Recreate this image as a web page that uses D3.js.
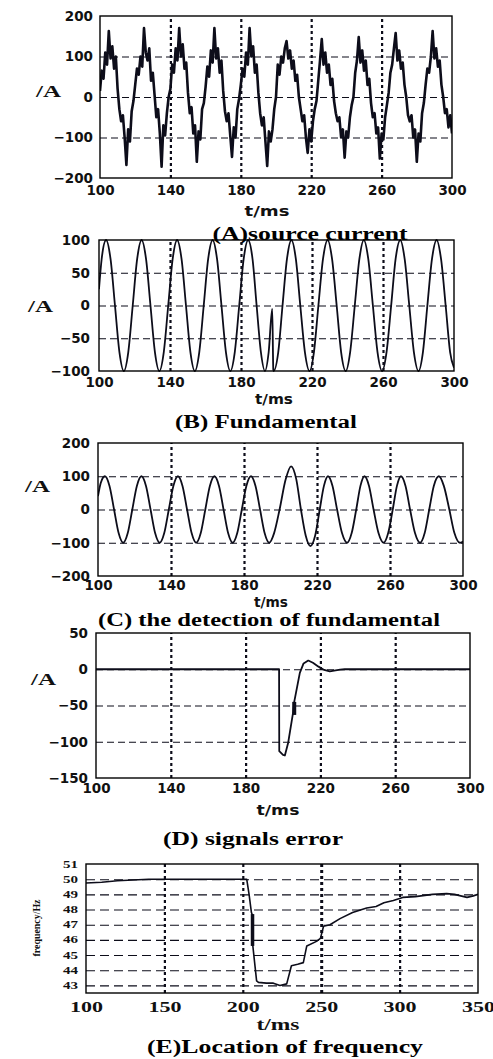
<!DOCTYPE html>
<html>
<head>
<meta charset="utf-8">
<script src="https://cdn.jsdelivr.net/npm/d3@7/dist/d3.min.js"></script>
<style>
  html, body { margin: 0; padding: 0; background: #fff; }
  svg { display: block; }
</style>
</head>
<body>
<svg id="chart" width="493" height="1059"></svg>
<script>
// ---------------- DATA ----------------
// (A) source current, sampled every 1 ms from 100 to 300 ms
const sourceCurrentTime = d3.range(100, 301, 1);
const sourceCurrentValues = [
  15, 65, 45, 110, 80, 163, 95, 125, 70, 100, 20, -30, -60, -45, -100, -168, -80, -110, -35, -10,
  30, 70, 55, 100, 75, 170, 110, 90, 120, 40, 60, 5, -50, -30, -90, -172, -70, -95, -40, 0,
  20, 80, 60, 120, 90, 170, 100, 130, 70, 85, 10, -40, -25, -90, -70, -160, -85, -105, -30, -15,
  25, 75, 50, 115, 85, 170, 95, 120, 60, 90, 15, -35, -60, -40, -95, -148, -75, -100, -30, -5,
  30, 70, 50, 110, 80, 170, 100, 125, 60, 80, 10, -40, -70, -50, -110, -170, -85, -110, -80, -30,
  0, 80, 55, 100, 85, 120, 138, 95, 115, 70, 90, 40, 55, 0, -30, -60, -45, -100, -138, -80,
  -110, -60, -30, -10, 40, 90, 143, 80, 110, 60, 80, 30, 45, -10, -40, -60, -50, -100, -80, -150,
  -85, -100, -50, -20, 0, 60, 90, 148, 85, 115, 65, 90, 30, 45, -15, -50, -40, -90, -75, -152,
  -90, -105, -50, -20, 10, 60, 80, 120, 158, 90, 115, 70, 85, 30, 0, -45, -60, -45, -100, -80,
  -160, -90, -110, -40, -15, 30, 70, 60, 100, 163, 95, 120, 75, 90, 30, 0, -40, -30, -75, -45,
  -90
];

// (B) fundamental: [time ms, current A]
const fundamentalPoints = [
  [100, 25], [101.5, 71], [104, 100], [106.5, 71], [109, 0], [111.5, -71], [114, -100], [116.5, -71],
  [119, 0], [121.5, 71], [124, 100], [126.5, 71], [129, 0], [131.5, -71], [134, -100], [136.5, -71],
  [139, 0], [141.5, 71], [144, 100], [146.5, 71], [149, 0], [151.5, -71], [154, -100], [156.5, -71],
  [159, 0], [161.5, 71], [164, 100], [166.5, 71], [169, 0], [171.5, -71], [174, -100], [176.5, -71],
  [179, 0], [181.5, 71], [184, 100], [186.5, 71], [188.8, 0], [191.2, -71], [193.5, -100], [195.6, -71],
  [197.6, -5], [198.2, -98], [198.4, -100], [201, -71], [203.4, 0], [205.9, 71], [208.4, 100], [210.9, 71],
  [213.4, 0], [216, -71], [218.6, -100], [221.1, -71], [223.6, 0], [226.2, 71], [228.8, 100], [231.3, 71],
  [233.9, 0], [236.4, -71], [239, -100], [241.5, -71], [244.1, 0], [246.7, 71], [249.2, 100], [251.7, 71],
  [254.3, 0], [256.9, -71], [259.5, -100], [262, -71], [264.6, 0], [267.1, 71], [269.7, 100], [272.2, 71],
  [274.8, 0], [277.4, -71], [280, -100], [282.5, -71], [285, 0], [287.6, 71], [290.2, 100], [292.7, 71],
  [295.3, 0], [297.8, -71], [300, -95]
];

// (C) detection of fundamental: [time ms, current A]
const detectionPoints = [
  [100, 40], [101.5, 80], [103.8, 100], [106.3, 71], [108.8, 0], [111.3, -71], [113.8, -100], [116.3, -71],
  [118.8, 0], [121.3, 71], [123.8, 100], [126.3, 71], [128.8, 0], [131.3, -71], [133.8, -100], [136.3, -71],
  [138.8, 0], [141.3, 71], [143.8, 100], [146.3, 71], [148.8, 0], [151.3, -71], [153.8, -100], [156.3, -71],
  [158.8, 0], [161.3, 71], [163.8, 100], [166.3, 71], [168.8, 0], [171.3, -71], [173.8, -100], [176.3, -71],
  [178.8, 0], [181.3, 71], [183.8, 100], [186.3, 71], [188.8, 0], [191.3, -71], [193.8, -100], [196.5, -71],
  [199.5, 0], [202.8, 90], [205.8, 130], [208.6, 92], [211.2, 0], [213.8, -78], [216.4, -110], [219, -78],
  [221.5, 0], [223.8, 71], [226, 100], [228.5, 71], [231, 0], [233.7, -71], [236.5, -100], [239, -71],
  [241.5, 0], [243.8, 71], [246, 100], [248.5, 71], [251, 0], [253.7, -71], [256.5, -100], [259, -71],
  [261.5, 0], [263.8, 71], [266, 100], [268.5, 71], [271, 0], [273.7, -71], [276.5, -100], [279, -71],
  [281.5, 0], [284, 71], [286.8, 100], [289.5, 71], [292.5, 0], [295.3, -71], [298.3, -100], [300, -96]
];

// (D) signals error: [time ms, current A]
const errorPoints = [
  [100, 0], [197.9, 0], [198, -113], [200, -118], [201, -119], [202.8, -101], [205.5, -58], [206, -45],
  [209, -5], [211, 8], [213.5, 12], [216, 9], [219, 3.6], [222, -1], [225, -3], [230.5, -0.5],
  [233, 0], [300, 0]
];
const errorBar = [[206, -45], [206, -63]];

// (E) location of frequency: [time ms, frequency Hz]
const frequencyPoints = [
  [100, 49.75], [110, 49.8], [120, 49.9], [130, 49.95], [140, 50], [150, 50], [200, 50], [202.5, 50],
  [204, 49.0], [205.5, 47.8], [206.2, 47.6], [206.4, 45.6], [208.8, 43.3], [210, 43.2], [215, 43.15],
  [219.5, 43.15], [223.7, 43.0], [228, 43.1], [231, 44.3], [235, 44.4], [238.6, 44.5], [240.8, 45.6],
  [247, 45.9], [249.5, 46.1], [251.5, 46.9], [255.6, 47.0], [262, 47.4], [270, 47.8], [279, 48.1],
  [285, 48.2], [290, 48.45], [296, 48.6], [302, 48.8], [310, 48.85], [321, 49.0], [330, 49.05],
  [335, 49.0], [343, 48.8], [347, 48.9], [350, 49.0]
];
const frequencyBar = [[206.2, 47.7], [206.2, 45.6]];

// tick labels
const timeTicks300 = [100, 140, 180, 220, 260, 300];
const timeGrid300 = [140, 180, 220, 260];
const timeTicks350 = [100, 150, 200, 250, 300, 350];
const timeGrid350 = [150, 200, 250, 300];
const ticksA = [-200, -100, 0, 100, 200];
const gridA = [-100, 0, 100];
const ticksB = [-100, -50, 0, 50, 100];
const gridB = [-50, 0, 50];
const ticksC = [-200, -100, 0, 100, 200];
const gridC = [-100, 0, 100];
const ticksD = [-150, -100, -50, 0, 50];
const gridD = [-100, -50, 0];
const ticksE = [43, 44, 45, 46, 47, 48, 49, 50, 51];
const gridE = [43, 44, 45, 46, 47, 48, 49, 50];

const titles = ["(A)source current", "(B) Fundamental", "(C) the detection of fundamental", "(D) signals error", "(E)Location of frequency"];

// ---------------- DRAWING ----------------
const svg = d3.select("#chart");
svg.append("rect").attr("width", 493).attr("height", 1059).attr("fill", "#fff");

const INK = "#0d0d1a";
const SANS = "'DejaVu Sans', sans-serif";
const SERIF = "'Liberation Serif', 'Times New Roman', serif";

const panels = [
  { left: 100, right: 452, top: 16, bottom: 178, xDom: [100, 300], yDom: [-200, 200],
    xTicks: timeTicks300, xGrid: timeGrid300, yTicks: ticksA, yGrid: gridA,
    kind: "series", lineW: 2.6, curve: d3.curveLinear,
    xPad: 7, yPad: 7, xlab: { x: 267, y: 216, w: 45 }, ylab: { x: 48.5, y: 97 },
    title: { x: 310, y: 240, w: 195 } },
  { left: 99, right: 454, top: 240, bottom: 371, xDom: [100, 300], yDom: [-100, 100],
    xTicks: timeTicks300, xGrid: timeGrid300, yTicks: ticksB, yGrid: gridB,
    kind: "points", data: fundamentalPoints, lineW: 1.8, curve: d3.curveMonotoneX,
    xPad: 6, yPad: 9, xlab: { x: 274, y: 404, w: 38 }, ylab: { x: 40.5, y: 312 },
    title: { x: 266, y: 428, w: 182 } },
  { left: 98, right: 463, top: 443, bottom: 576, xDom: [100, 300], yDom: [-200, 200],
    xTicks: timeTicks300, xGrid: timeGrid300, yTicks: ticksC, yGrid: gridC,
    kind: "points", data: detectionPoints, lineW: 1.8, curve: d3.curveMonotoneX,
    xPad: 4, yPad: 8, xlab: { x: 271, y: 607, w: 34 }, ylab: { x: 37.5, y: 492 },
    title: { x: 269, y: 626, w: 342 } },
  { left: 96, right: 470, top: 633, bottom: 778, xDom: [100, 300], yDom: [-150, 50],
    xTicks: timeTicks300, xGrid: timeGrid300, yTicks: ticksD, yGrid: gridD,
    kind: "points", data: errorPoints, bar: errorBar, barW: 4, lineW: 1.8, curve: d3.curveLinear,
    xPad: 5, yPad: 8, xlab: { x: 278, y: 815, w: 43 }, ylab: { x: 43.5, y: 685 },
    title: { x: 253, y: 845, w: 180 } },
  { left: 86, right: 478, top: 864, bottom: 993, xDom: [100, 350], yDom: [42.5, 51],
    xTicks: timeTicks350, xGrid: timeGrid350, yTicks: ticksE, yGrid: gridE,
    kind: "points", data: frequencyPoints, bar: frequencyBar, barW: 3.5, lineW: 1.6, curve: d3.curveLinear,
    xPad: 8, yPad: 8, xlab: { x: 278, y: 1030, w: 43 }, freqLabel: { x: 40, y: 928, w: 57 },
    title: { x: 285, y: 1053, w: 276 }, serifTicks: true }
];

panels.forEach((p, i) => {
  const g = svg.append("g");
  const x = d3.scaleLinear().domain(p.xDom).range([p.left, p.right]);
  const y = d3.scaleLinear().domain(p.yDom).range([p.bottom, p.top]);
  const W = p.right - p.left, H = p.bottom - p.top;

  // horizontal dashed grid
  g.append("g").attr("transform", `translate(${p.left},0)`)
    .call(d3.axisLeft(y).tickValues(p.yGrid).tickSize(-W).tickFormat(""))
    .call(s => s.select(".domain").remove())
    .selectAll("line")
    .attr("stroke", INK).attr("stroke-width", 1.1)
    .attr("stroke-dasharray", i === 4 ? "9,5" : "7,4");

  // vertical dotted grid
  g.append("g").attr("transform", `translate(0,${p.bottom})`)
    .call(d3.axisBottom(x).tickValues(p.xGrid).tickSize(-H).tickFormat(""))
    .call(s => s.select(".domain").remove())
    .selectAll("line")
    .attr("stroke", INK)
    .attr("stroke-width", d => (i === 4 && d === 250) ? 3 : 2.2)
    .attr("stroke-dasharray", "3,3");

  // clip
  const clipId = "clip" + i;
  svg.append("clipPath").attr("id", clipId).append("rect")
    .attr("x", p.left).attr("y", p.top - 1).attr("width", W).attr("height", H + 2);

  // data line
  let pts;
  if (p.kind === "series") {
    pts = sourceCurrentTime.map((t, k) => [t, sourceCurrentValues[k]]);
  } else {
    pts = p.data;
  }
  const line = d3.line().x(d => x(d[0])).y(d => y(d[1])).curve(p.curve);
  g.append("path").datum(pts)
    .attr("clip-path", `url(#${clipId})`)
    .attr("d", line)
    .attr("fill", "none").attr("stroke", INK)
    .attr("stroke-width", p.lineW).attr("stroke-linejoin", "round");

  if (p.bar) {
    g.append("path").datum(p.bar)
      .attr("d", d3.line().x(d => x(d[0])).y(d => y(d[1])))
      .attr("fill", "none").attr("stroke", INK).attr("stroke-width", p.barW);
  }

  // frame
  g.append("rect").attr("x", p.left).attr("y", p.top).attr("width", W).attr("height", H)
    .attr("fill", "none").attr("stroke", "#000").attr("stroke-width", 1.4);

  // y tick labels
  const ya = g.append("g").attr("transform", `translate(${p.left},0)`)
    .call(d3.axisLeft(y).tickValues(p.yTicks).tickSize(0).tickPadding(p.yPad));
  ya.select(".domain").remove();
  // x tick labels
  const xa = g.append("g").attr("transform", `translate(0,${p.bottom})`)
    .call(d3.axisBottom(x).tickValues(p.xTicks).tickSize(0).tickPadding(p.xPad));
  xa.select(".domain").remove();

  if (p.serifTicks) {
    ya.selectAll("text").attr("font-family", SERIF).attr("font-weight", "bold")
      .attr("font-size", 9.5).attr("fill", "#111")
      .attr("textLength", 15).attr("lengthAdjust", "spacingAndGlyphs");
    xa.selectAll("text").attr("font-family", SERIF).attr("font-weight", "bold")
      .attr("font-size", 15).attr("fill", "#111")
      .attr("textLength", 33).attr("lengthAdjust", "spacingAndGlyphs");
  } else {
    [ya, xa].forEach(a => a.selectAll("text")
      .attr("font-family", SANS).attr("font-weight", "bold")
      .attr("font-size", 13.5).attr("fill", "#111"));
  }

  // x axis title
  g.append("text").attr("x", p.xlab.x).attr("y", p.xlab.y)
    .attr("text-anchor", "middle")
    .attr("font-family", p.serifTicks ? SERIF : SANS).attr("font-weight", "bold")
    .attr("font-size", p.serifTicks ? 17 : 13.5).attr("fill", "#111")
    .attr("textLength", p.xlab.w).attr("lengthAdjust", "spacingAndGlyphs")
    .text("t/ms");

  // y axis title
  if (p.ylab) {
    g.append("text").attr("x", p.ylab.x).attr("y", p.ylab.y)
      .attr("text-anchor", "middle")
      .attr("font-family", SERIF).attr("font-weight", "bold")
      .attr("font-size", 17).attr("fill", "#111")
      .attr("textLength", 25).attr("lengthAdjust", "spacingAndGlyphs")
      .text("/A");
  }
  if (p.freqLabel) {
    g.append("text")
      .attr("transform", `translate(${p.freqLabel.x},${p.freqLabel.y}) rotate(-90)`)
      .attr("text-anchor", "middle")
      .attr("font-family", SERIF).attr("font-weight", "bold")
      .attr("font-size", 10).attr("fill", "#111")
      .attr("textLength", p.freqLabel.w).attr("lengthAdjust", "spacingAndGlyphs")
      .text("frequency/Hz");
  }

  // caption
  g.append("text").attr("x", p.title.x).attr("y", p.title.y)
    .attr("text-anchor", "middle")
    .attr("font-family", SERIF).attr("font-weight", "bold")
    .attr("font-size", 18).attr("fill", "#000")
    .attr("textLength", p.title.w).attr("lengthAdjust", "spacingAndGlyphs")
    .text(titles[i]);
});
</script>
</body>
</html>
